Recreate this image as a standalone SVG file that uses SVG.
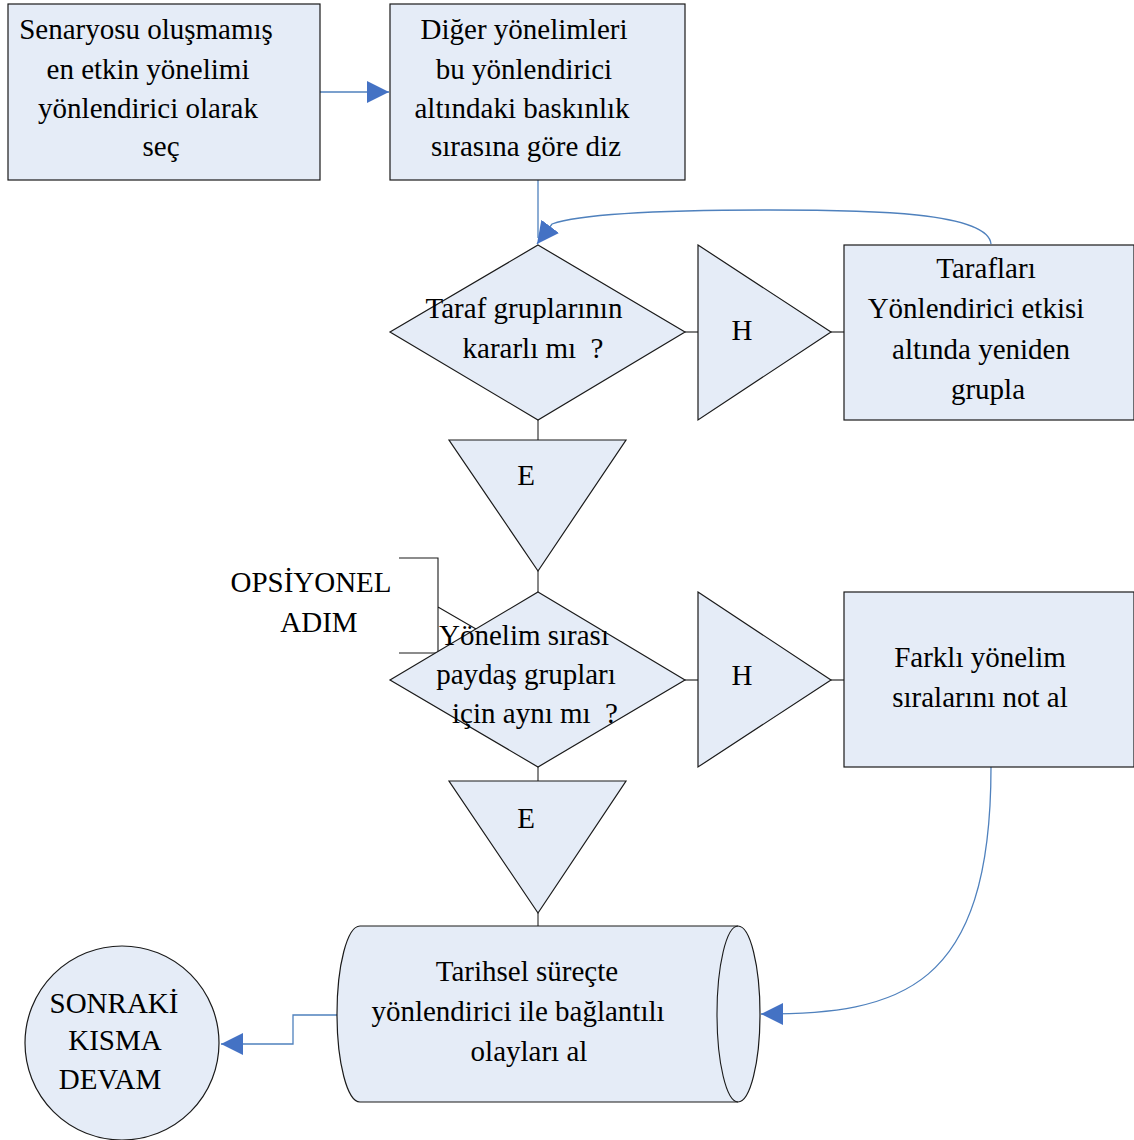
<svg xmlns="http://www.w3.org/2000/svg" width="1134" height="1140" viewBox="0 0 1134 1140">
<defs>
<style>
.shape{fill:#E5ECF7;stroke:#1a1a1a;stroke-width:1.2}
.lnk{fill:none;stroke:#555;stroke-width:1.4}
.conn{fill:none;stroke:#4F81BD;stroke-width:1.3}
.br{fill:none;stroke:#1a1a1a;stroke-width:1.1}
text{font-family:"Liberation Serif","Times New Roman",serif;font-size:29px;fill:#000;text-anchor:middle;white-space:pre}
</style>
<marker id="arr" markerUnits="userSpaceOnUse" markerWidth="22" markerHeight="22" refX="22" refY="11" orient="auto" viewBox="0 0 22 22">
<path d="M0,0 L22,11 L0,22 z" fill="#4472C4"/>
</marker>
</defs>
<rect width="1134" height="1140" fill="#fff"/>

<g id="links">
<path class="lnk" d="M538 420 V440 M538 571 V592 M538 767 V781 M538 913 V927 M685 332 H698 M831 332 H844 M685 680 H698 M831 680 H844"/>
<path class="br" d="M399 558 H438 V653 H399 M438 607 L476 629"/>
</g>

<g id="connectors">
<path class="conn" d="M320 92 H389" marker-end="url(#arr)"/>
<path class="conn" d="M538 180 V238"/>
<path class="conn" d="M991 244 C988 212 870 210 770 210 C650 210 580 214 552 224 L537 244" marker-end="url(#arr)"/>
<path class="conn" d="M991 767 C991 990 900 1014 761 1014" marker-end="url(#arr)"/>
<path class="conn" d="M337 1015 H293 V1044 H221" marker-end="url(#arr)"/>
</g>

<g id="n1">
<rect class="shape" x="8" y="4" width="312" height="176"/>
<text x="146" y="39">Senaryosu oluşmamış</text>
<text x="148" y="79">en etkin yönelimi</text>
<text x="148" y="118">yönlendirici olarak</text>
<text x="161" y="156">seç</text>
</g>

<g id="n2">
<rect class="shape" x="390" y="4" width="295" height="176"/>
<text x="524" y="39">Diğer yönelimleri</text>
<text x="524" y="79">bu yönlendirici</text>
<text x="522" y="118">altındaki baskınlık</text>
<text x="526" y="156">sırasına göre diz</text>
</g>

<g id="d1">
<polygon class="shape" points="538,245 685,332 538,420 390,332"/>
<text x="524" y="318">Taraf gruplarının</text>
<text x="533" y="358" xml:space="preserve">kararlı mı  ?</text>
</g>

<g id="h1">
<polygon class="shape" points="698,245 831,332 698,420"/>
<text x="742" y="340">H</text>
</g>

<g id="n3">
<rect class="shape" x="844" y="245" width="290" height="175"/>
<text x="986" y="278">Tarafları</text>
<text x="976" y="318">Yönlendirici etkisi</text>
<text x="981" y="359">altında yeniden</text>
<text x="988" y="399">grupla</text>
</g>

<g id="e1">
<polygon class="shape" points="449,440 626,440 538,571"/>
<text x="526" y="485">E</text>
</g>

<g id="opt">
<text x="311" y="592">OPSİYONEL</text>
<text x="319" y="632">ADIM</text>
</g>

<g id="d2">
<polygon class="shape" points="538,592 685,680 538,767 390,680"/>
<text x="524" y="645">Yönelim sırası</text>
<text x="526" y="684">paydaş grupları</text>
<text x="535" y="723" xml:space="preserve">için aynı mı  ?</text>
</g>

<g id="h2">
<polygon class="shape" points="698,592 831,680 698,767"/>
<text x="742" y="685">H</text>
</g>

<g id="n4">
<rect class="shape" x="844" y="592" width="290" height="175"/>
<text x="980" y="667">Farklı yönelim</text>
<text x="980" y="707">sıralarını not al</text>
</g>

<g id="e2">
<polygon class="shape" points="449,781 626,781 538,913"/>
<text x="526" y="828">E</text>
</g>

<g id="cyl">
<path class="shape" d="M360 926 H738 A22 88 0 0 1 738 1102 H360 A23 88 0 0 1 360 926 Z"/>
<path class="br" d="M738 926 A21 88 0 0 0 738 1102"/>
<text x="527" y="981">Tarihsel süreçte</text>
<text x="518" y="1021">yönlendirici ile bağlantılı</text>
<text x="529" y="1061">olayları al</text>
</g>

<g id="end">
<circle class="shape" cx="122" cy="1043" r="97"/>
<text x="114" y="1013">SONRAKİ</text>
<text x="115" y="1050">KISMA</text>
<text x="110" y="1089">DEVAM</text>
</g>
</svg>
